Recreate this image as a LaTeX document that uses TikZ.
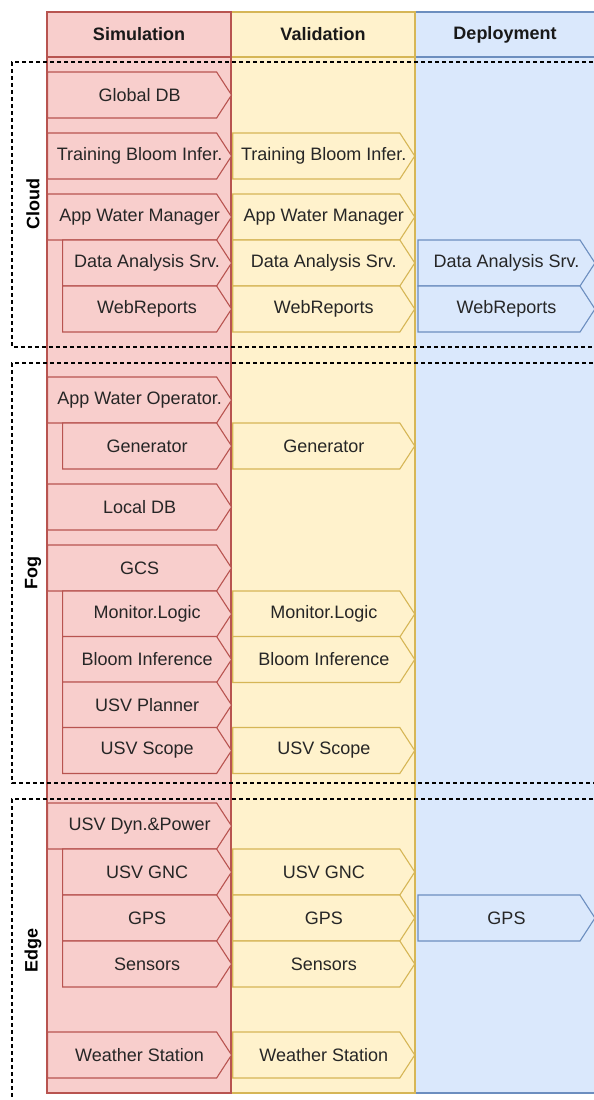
\documentclass[tikz,border=0pt]{standalone}
\usepackage{fontspec}
\setmainfont{Liberation Sans}
\usetikzlibrary{positioning,shapes.symbols}
\definecolor{simFill}{HTML}{F8CECC}
\definecolor{simLine}{HTML}{B85450}
\definecolor{valFill}{HTML}{FFF2CC}
\definecolor{valLine}{HTML}{D6B656}
\definecolor{depFill}{HTML}{DAE8FC}
\definecolor{depLine}{HTML}{6C8EBF}
\tikzstyle{Lane}=[line width=1.3pt]
\tikzstyle{LaneTitle}=[font=\fontsize{18}{21}\selectfont\bfseries, text=black!90]
\tikzstyle{Layer}=[dashed, dash pattern=on 4pt off 3pt, line width=1.2pt]
\tikzstyle{LayerTitle}=[rotate=90, font=\fontsize{18}{21}\selectfont\bfseries, text=black]
\tikzstyle{Bloque}=[signal, signal to=east, signal from=nowhere, signal pointer angle=114, minimum height=46pt, inner sep=0pt, line width=1.1pt, font=\fontsize{18}{21}\selectfont, text=black!85,
	execute at begin node={\hspace*{7.5pt}}, execute at end node={\hspace*{-7.5pt}}]
\tikzstyle{SimTop}=[Bloque, draw=simLine, fill=simFill, minimum width=184pt, anchor=west]
\tikzstyle{SimSub}=[Bloque, draw=simLine, fill=simFill, minimum width=169pt, anchor=west]
\tikzstyle{ValBox}=[Bloque, draw=valLine, fill=valFill, minimum width=182pt]
\tikzstyle{DepBox}=[Bloque, draw=depLine, fill=depFill, minimum width=177pt]

\begin{document}
\begin{tikzpicture}[x=1pt,y=-1pt]
			\useasboundingbox (0,0) rectangle (594,1100);

			%Carriles
			\draw[Lane, draw=depLine, fill=depFill] (415,12) rectangle (599,1093);
			\draw[Lane, draw=depLine] (415,57) -- (599,57);
			\draw[Lane, draw=valLine, fill=valFill] (231,12) rectangle (415,1093);
			\draw[Lane, draw=valLine] (231,57) -- (415,57);
			\draw[Lane, draw=simLine, fill=simFill] (47,12) rectangle (231,1093);
			\draw[Lane, draw=simLine] (47,57) -- (231,57);

			\node[LaneTitle]	(simTitle)	at (139,34.5)	{Simulation};
			\node[LaneTitle]	(valTitle)	at (323,34.5)	{Validation};
			\node[LaneTitle]	(depTitle)	at (505,34.5)	{Deployment};

			%Capas
			\draw[Layer] (600,62) -- (12,62) -- (12,347) -- (600,347);
			\draw[Layer] (600,363) -- (12,363) -- (12,783) -- (600,783);
			\draw[Layer] (600,799) -- (12,799) -- (12,1104);

			\node[LayerTitle]	(cloud)	at (33,204.5)	{Cloud};
			\node[LayerTitle]	(fog)	at (33,573)	{Fog};
			\node[LayerTitle]	(edge)	at (33,950)	{Edge};

			%Nodos - Cloud
			\node[SimTop]	(simGlobalDB)	at (47,95)	{Global DB};
			\node[SimTop]	(simTrainBI)	at (47,156)	{Training Bloom Infer.};
			\node[SimTop]	(simAppWM)		at (47,217)	{App Water Manager};
			\node[SimSub]	(simDataAS)		at (62,263)	{Data Analysis Srv.};
			\node[SimSub]	(simWebRep)		at (62,309)	{WebReports};

			\node[ValBox]	(valTrainBI)	[right=0pt of simTrainBI]	{Training Bloom Infer.};
			\node[ValBox]	(valAppWM)		[right=0pt of simAppWM]		{App Water Manager};
			\node[ValBox]	(valDataAS)		[right=0pt of simDataAS]	{Data Analysis Srv.};
			\node[ValBox]	(valWebRep)		[right=0pt of simWebRep]	{WebReports};

			\node[DepBox]	(depDataAS)		[right=2pt of valDataAS]	{Data Analysis Srv.};
			\node[DepBox]	(depWebRep)		[right=2pt of valWebRep]	{WebReports};

			%Nodos - Fog
			\node[SimTop]	(simAppWO)		at (47,400)	{App Water Operator.};
			\node[SimSub]	(simGen)		at (62,446)	{Generator};
			\node[SimTop]	(simLocalDB)	at (47,507)	{Local DB};
			\node[SimTop]	(simGCS)		at (47,568)	{GCS};
			\node[SimSub]	(simMonLog)		at (62,614)	{Monitor.Logic};
			\node[SimSub]	(simBloomInf)	at (62,659.5)	{Bloom Inference};
			\node[SimSub]	(simUSVPlan)	at (62,705)	{USV Planner};
			\node[SimSub]	(simUSVScope)	at (62,750.5)	{USV Scope};

			\node[ValBox]	(valGen)		[right=0pt of simGen]		{Generator};
			\node[ValBox]	(valMonLog)		[right=0pt of simMonLog]	{Monitor.Logic};
			\node[ValBox]	(valBloomInf)	[right=0pt of simBloomInf]	{Bloom Inference};
			\node[ValBox]	(valUSVScope)	[right=0pt of simUSVScope]	{USV Scope};

			%Nodos - Edge
			\node[SimTop]	(simUSVDyn)		at (47,826)	{USV Dyn.\&Power};
			\node[SimSub]	(simUSVGNC)		at (62,872)	{USV GNC};
			\node[SimSub]	(simGPS)		at (62,918)	{GPS};
			\node[SimSub]	(simSensors)	at (62,964)	{Sensors};
			\node[SimTop]	(simWeather)	at (47,1055)	{Weather Station};

			\node[ValBox]	(valUSVGNC)		[right=0pt of simUSVGNC]	{USV GNC};
			\node[ValBox]	(valGPS)		[right=0pt of simGPS]		{GPS};
			\node[ValBox]	(valSensors)	[right=0pt of simSensors]	{Sensors};
			\node[ValBox]	(valWeather)	[right=0pt of simWeather]	{Weather Station};

			\node[DepBox]	(depGPS)		[right=2pt of valGPS]		{GPS};

		\end{tikzpicture}
\end{document}
